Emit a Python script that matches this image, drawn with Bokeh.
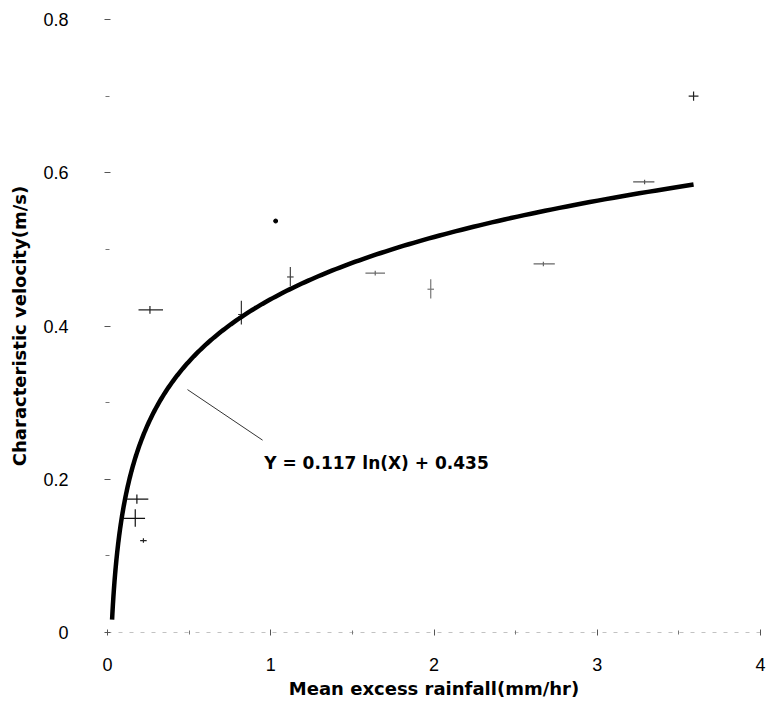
import numpy as np
from bokeh.plotting import figure
from bokeh.models import FixedTicker, ColumnDataSource
from bokeh.core.properties import value
from bokeh.embed import file_html
from bokeh.resources import INLINE

# Observed points (mean excess rainfall mm/hr, characteristic velocity m/s)
obs_x = [0.26, 0.18, 0.17, 0.22, 0.82, 1.12, 1.64, 1.98, 2.67, 3.29, 3.59]
obs_y = [0.421, 0.174, 0.149, 0.120, 0.415, 0.464, 0.469, 0.448, 0.481, 0.588, 0.700]
obs_x_lo = [0.19, 0.12, 0.10, 0.20, 0.80, 1.10, 1.58, 1.96, 2.61, 3.22, 3.56]
obs_x_hi = [0.34, 0.25, 0.23, 0.24, 0.84, 1.14, 1.70, 2.00, 2.74, 3.35, 3.62]
obs_y_lo = [0.416, 0.168, 0.138, 0.117, 0.402, 0.452, 0.466, 0.436, 0.478, 0.585, 0.694]
obs_y_hi = [0.426, 0.180, 0.161, 0.123, 0.433, 0.477, 0.472, 0.461, 0.484, 0.591, 0.706]
obs_color = ["#222222", "#111111", "#111111", "#222222", "#333333", "#444444",
             "#666666", "#777777", "#666666", "#555555", "#222222"]

# isolated dot
dot_x = [1.03]
dot_y = [0.537]

# fitted log curve: Y = 0.117 ln(X) + 0.435
fit_a = 0.117
fit_b = 0.435
fit_x_start = 0.028
fit_x_end = 3.59

x_ticks = [0, 1, 2, 3, 4]
y_ticks = [0, 0.2, 0.4, 0.6, 0.8]
y_minor = [0.1, 0.3, 0.5, 0.7]

equation_label = "Y = 0.117 ln(X) + 0.435"
x_title = "Mean excess rainfall(mm/hr)"
y_title = "Characteristic velocity(m/s)"

FONT = "Liberation Sans"
TITLE_FONT = "DejaVu Sans"

p = figure(width=769, height=704, output_backend="svg", toolbar_location=None,
           x_range=(0, 4), y_range=(0, 0.8),
           min_border_left=107, min_border_right=9, min_border_top=19, min_border_bottom=72)
p.outline_line_color = None
p.grid.grid_line_color = None
p.background_fill_color = "white"
p.border_fill_color = "white"

# axes
p.xaxis.ticker = FixedTicker(ticks=x_ticks, minor_ticks=[0.5, 1.5, 2.5, 3.5])
p.yaxis.ticker = FixedTicker(ticks=y_ticks, minor_ticks=y_minor)
for ax in (p.xaxis, p.yaxis):
    ax.major_label_text_font = FONT
    ax.major_label_text_font_size = "18px"
    ax.major_label_text_color = "black"
    ax.axis_label_text_font = TITLE_FONT
    ax.axis_label_text_font_style = "bold"
    ax.axis_label_text_font_size = "18px"
    ax.axis_label_text_color = "black"
    ax.major_tick_line_color = "#555555"
    ax.minor_tick_line_color = "#777777"
    ax.major_tick_in = 3
    ax.major_tick_out = 3
    ax.minor_tick_in = 2
    ax.minor_tick_out = 2

p.yaxis.axis_line_color = None
p.yaxis.major_label_standoff = 36
p.yaxis.axis_label = y_title
p.yaxis.axis_label_standoff = 10

p.xaxis.axis_line_color = "#999999"
p.xaxis.axis_line_dash = "4 7"
p.xaxis.axis_line_alpha = 0.6
p.xaxis.major_label_standoff = 22
p.xaxis.axis_label = x_title
p.xaxis.axis_label_standoff = 4

# error crosses
src = ColumnDataSource(dict(x=obs_x, y=obs_y, xlo=obs_x_lo, xhi=obs_x_hi,
                            ylo=obs_y_lo, yhi=obs_y_hi, c=obs_color))
p.segment(x0="xlo", y0="y", x1="xhi", y1="y", source=src, line_color="c", line_width=1.2)
p.segment(x0="x", y0="ylo", x1="x", y1="yhi", source=src, line_color="c", line_width=1.2)

p.scatter(dot_x, dot_y, size=4, color="black")

# fitted curve
fx = np.geomspace(fit_x_start, fit_x_end, 300)
fy = fit_a * np.log(fx) + fit_b
p.line(fx, fy, line_color="black", line_width=4.5)

# leader line and equation
p.line([0.49, 0.95], [0.317, 0.251], line_color="#333333", line_width=1)
p.text([0.96], [0.221], text=[equation_label], text_font=value(TITLE_FONT),
       text_font_style="bold", text_font_size="17px", text_color="black",
       text_baseline="middle", text_align="left")

open("out.html", "w").write(file_html(p, INLINE))
